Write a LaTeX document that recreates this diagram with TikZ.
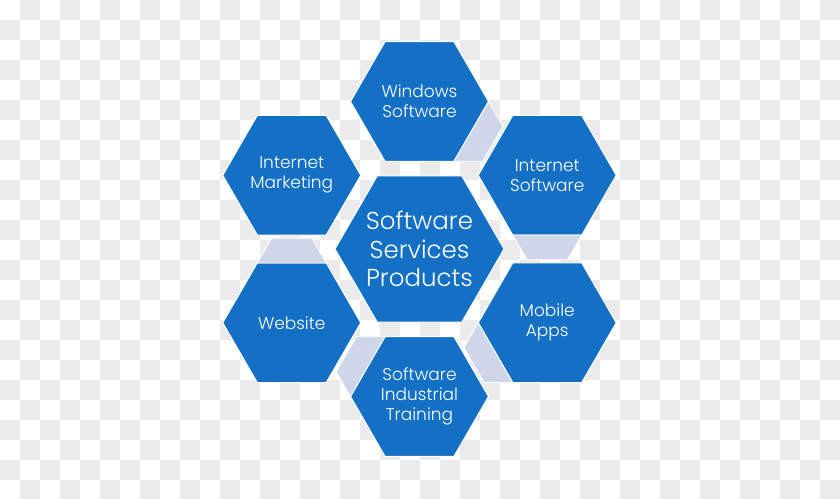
\documentclass[tikz,border=0pt]{standalone}
\usepackage{fontspec}
\setmainfont{Poppins Light}
\usetikzlibrary{shapes.geometric}
\definecolor{hexblue}{RGB}{19,112,197}
\definecolor{linklav}{RGB}{207,214,234}
\definecolor{checkgray}{RGB}{235,235,235}
\begin{document}
\begin{tikzpicture}[x=1pt,y=1pt,
  hexbox/.style={regular polygon, regular polygon sides=6, minimum size=138pt,
    inner sep=-15pt, outer sep=0pt, fill=hexblue, draw=white, line width=1pt,
    text=white, align=center, font=\fontsize{17}{20}\selectfont},
  bighex/.style={hexbox, minimum size=169pt, font=\fontsize{24.5}{28.5}\selectfont},
  linkband/.style={fill=linklav, draw=white, line width=0.8pt}]
\useasboundingbox (0,0) rectangle (840,498);
\fill[white] (0,0) rectangle (840,498);
% transparency checkerboard
\foreach \i in {0,...,41}{
  \foreach \j in {0,...,24}{
    \pgfmathtruncatemacro\myparity{mod(\i+\j,2)}
    \ifnum\myparity=1
      \fill[checkgray] (20*\i,498-20*\j-20) rectangle (20*\i+20,498-20*\j);
    \fi
  }
}
% hexagons
\node[bighex] (ctr) at (419.5,249) {Software\\Services\\Products};
\node[hexbox] (win) at (419.5,396.5) {Windows\\Software};
\node[hexbox] (ints) at (547.24,322.75) {Internet\\Software};
\node[hexbox] (mob) at (547.24,175.25) {Mobile\\Apps};
\node[hexbox] (trn) at (419.5,101.5) {Software\\Industrial\\Training};
\node[hexbox] (web) at (291.76,175.25) {Website};
\node[hexbox] (mkt) at (291.76,322.75) {Internet\\Marketing};
% connector bands
\foreach \a/\ang in {win/-30, ints/-90, mob/-150, trn/150, web/90}{
  \begin{scope}[shift={(\a.center)}, rotate=\ang]
    \filldraw[linkband] (59.76,34.5) -- (59.76,-34.5) -- (84.5,-20.22) -- (84.5,20.22) -- cycle;
  \end{scope}
}
\end{tikzpicture}
\end{document}
